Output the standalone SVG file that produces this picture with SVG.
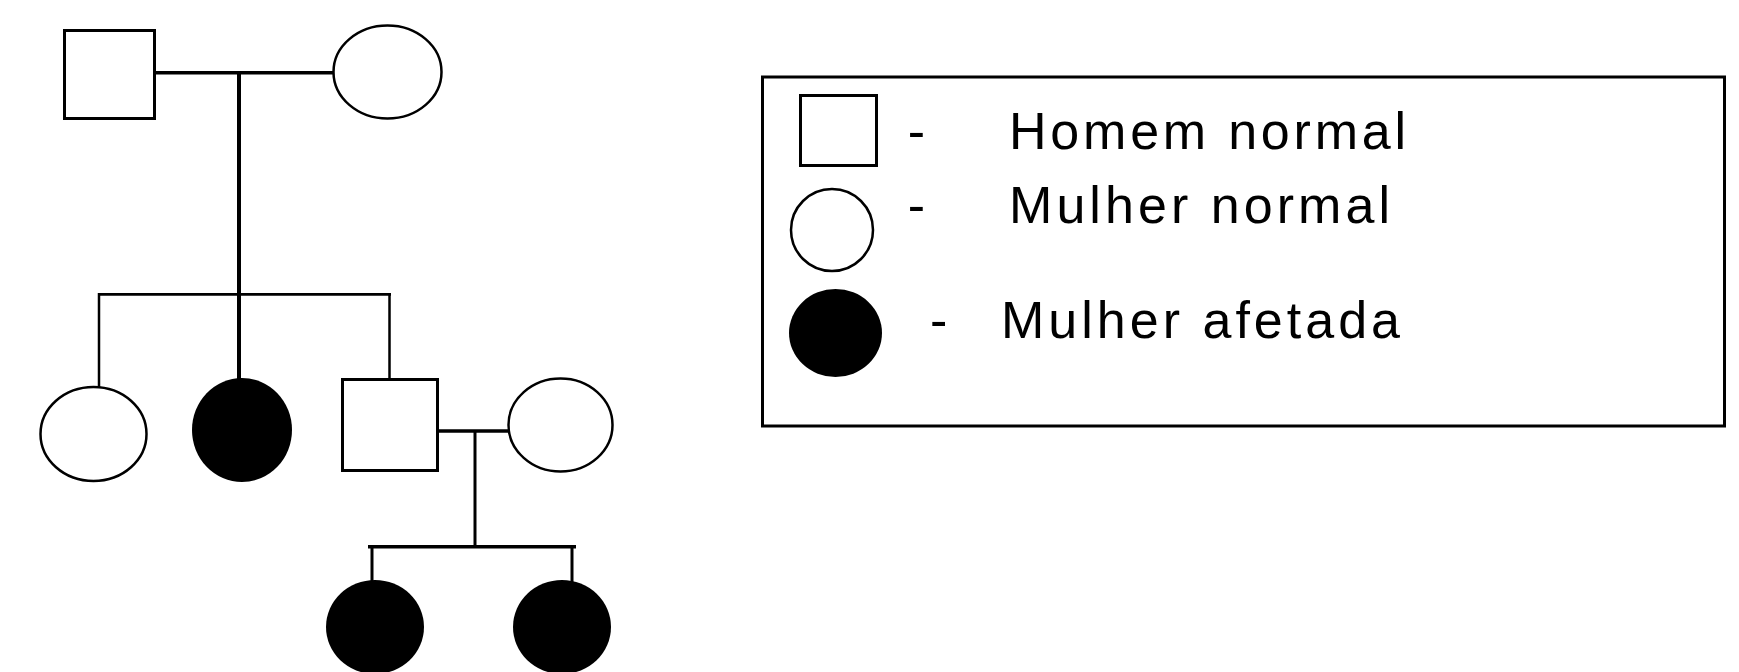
<svg xmlns="http://www.w3.org/2000/svg" width="1739" height="672" viewBox="0 0 1739 672">
<style>
.sq{fill:#fff;stroke:#000;stroke-width:3}
.f{fill:#fff;stroke:#000;stroke-width:2.5}
.a{fill:#000;stroke:none}
.ln{stroke:#000;fill:none}
.t{font-family:"Liberation Sans",Arial,sans-serif;font-size:52px;fill:#000}
</style>
<rect width="1739" height="672" fill="#fff"/>
<g id="connectors">
<line class="ln" x1="156" y1="72.7" x2="334" y2="72.7" stroke-width="3.5"/>
<line class="ln" x1="239" y1="73" x2="239" y2="379" stroke-width="4"/>
<line class="ln" x1="98" y1="294.3" x2="391" y2="294.3" stroke-width="2.7"/>
<line class="ln" x1="99" y1="293" x2="99" y2="397" stroke-width="2.5"/>
<line class="ln" x1="389.5" y1="293" x2="389.5" y2="379" stroke-width="2.5"/>
<line class="ln" x1="439" y1="431" x2="509" y2="431" stroke-width="3.5"/>
<line class="ln" x1="475" y1="431" x2="475" y2="546" stroke-width="3"/>
<line class="ln" x1="368" y1="546.7" x2="576" y2="546.7" stroke-width="3.5"/>
<line class="ln" x1="372" y1="546" x2="372" y2="582" stroke-width="3"/>
<line class="ln" x1="572" y1="546" x2="572" y2="582" stroke-width="3"/>
</g>
<g id="gf"><rect class="sq" x="64.5" y="30.5" width="90" height="88"/></g>
<g id="gm"><ellipse class="f" cx="387.5" cy="72" rx="54" ry="46.5"/></g>
<g id="d1"><ellipse class="f" cx="93.5" cy="434" rx="53" ry="47"/></g>
<g id="d2"><ellipse class="a" cx="242" cy="430" rx="50" ry="52"/></g>
<g id="s1"><rect class="sq" x="342.5" y="379.5" width="95" height="91"/></g>
<g id="w1"><ellipse class="f" cx="560.5" cy="425" rx="52" ry="46.5"/></g>
<g id="c1"><ellipse class="a" cx="375" cy="627" rx="49" ry="47"/></g>
<g id="c2"><ellipse class="a" cx="562" cy="627" rx="49" ry="47"/></g>
<g id="legend">
<rect x="762.5" y="77" width="962" height="349" fill="none" stroke="#000" stroke-width="3"/>
<rect class="sq" x="800.5" y="95.5" width="76" height="70"/>
<ellipse class="f" cx="832" cy="230" rx="41" ry="41"/>
<ellipse class="a" cx="835.5" cy="333" rx="46.5" ry="44"/>
<text class="t" x="907.7" y="149.3">-</text>
<text class="t" x="907.7" y="223.3">-</text>
<text class="t" x="930" y="338.3">-</text>
<text class="t" x="1009" y="149.3" textLength="397" lengthAdjust="spacing">Homem normal</text>
<text class="t" x="1009" y="223.3" textLength="381" lengthAdjust="spacing">Mulher normal</text>
<text class="t" x="1001" y="338.3" textLength="399" lengthAdjust="spacing">Mulher afetada</text>
</g>
</svg>
